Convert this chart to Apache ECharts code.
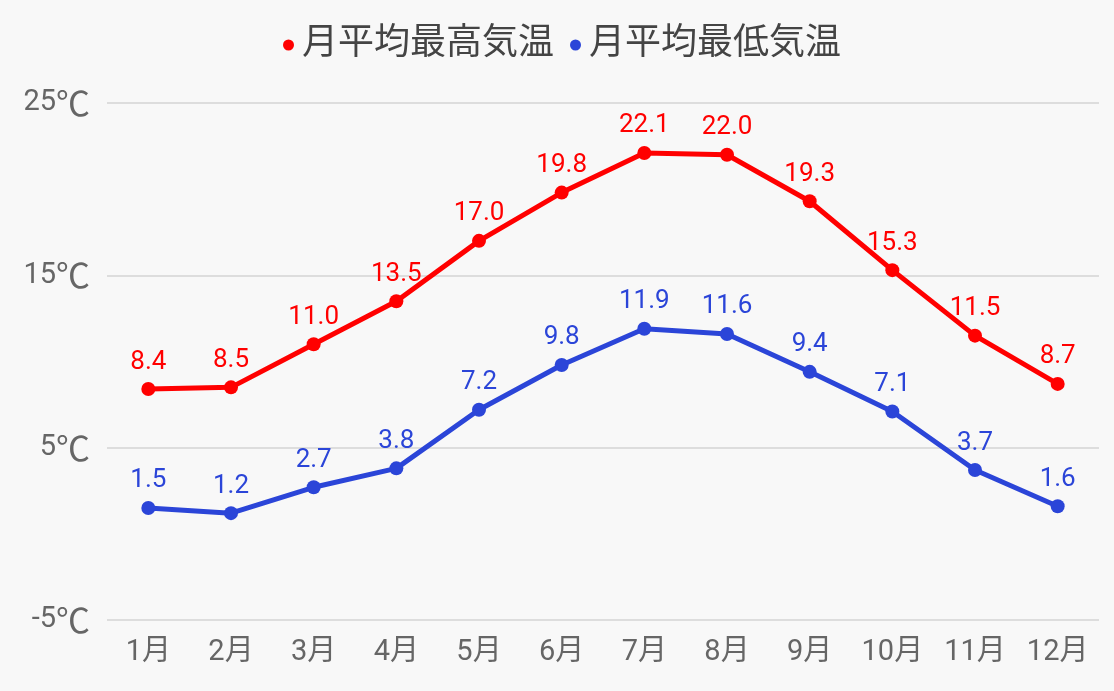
<!DOCTYPE html>
<html><head><meta charset="utf-8">
<script src="https://cdn.jsdelivr.net/npm/echarts@6/dist/echarts.min.js"></script>
<style>html,body{margin:0;padding:0;background:#f8f8f8}#c{width:1114px;height:691px}</style>
</head><body><div id="c"></div>
<script>
const categories = ['1月','2月','3月','4月','5月','6月','7月','8月','9月','10月','11月','12月'];
const highName = '月平均最高気温';
const lowName = '月平均最低気温';
const highTemps = [8.4, 8.5, 11.0, 13.5, 17.0, 19.8, 22.1, 22.0, 19.3, 15.3, 11.5, 8.7];
const lowTemps = [1.5, 1.2, 2.7, 3.8, 7.2, 9.8, 11.9, 11.6, 9.4, 7.1, 3.7, 1.6];
const yMin = -5, yMax = 25, yInterval = 10;

const font = 'Roboto, "Noto Sans CJK JP", sans-serif';
const chart = echarts.init(document.getElementById('c'));
const mk = (name, data, color) => ({
  name, type: 'line', data,
  symbol: 'circle', symbolSize: 14,
  lineStyle: {width: 5, color},
  itemStyle: {color},
  label: {show: true, position: 'top', distance: 7, color, fontSize: 26, fontFamily: font,
    formatter: p => p.value.toFixed(1)},
  emphasis: {disabled: true}
});
chart.setOption({
  backgroundColor: '#f8f8f8',
  animation: false,
  legend: {
    top: 22, left: 278, itemGap: 16, itemWidth: 11, itemHeight: 11,
    icon: 'circle',
    textStyle: {fontSize: 36, color: '#444', fontFamily: font, padding: [0,0,0,3]},
    data: [{name: highName, itemStyle: {color: '#ff0000'}}, {name: lowName, itemStyle: {color: '#2b45d8'}}]
  },
  grid: {left: 107, right: 15, top: 103, bottom: 71, containLabel: false},
  xAxis: {
    type: 'category', data: categories, boundaryGap: true,
    axisLine: {show: false}, axisTick: {show: false},
    axisLabel: {color: '#666', fontSize: 29, fontFamily: font, margin: 18}
  },
  yAxis: {
    type: 'value', min: yMin, max: yMax, interval: yInterval,
    axisLine: {show: false}, axisTick: {show: false},
    axisLabel: {color: '#666', fontSize: 29, fontFamily: font, margin: 17,
      formatter: v => v + '{c|℃}',
      rich: {c: {fontSize: 34, color: '#666', fontFamily: '"Noto Sans CJK JP"'}}},
    splitLine: {lineStyle: {color: '#dddddd', width: 2}}
  },
  series: [mk(highName, highTemps, '#ff0000'), mk(lowName, lowTemps, '#2b45d8')]
});
</script></body></html>
